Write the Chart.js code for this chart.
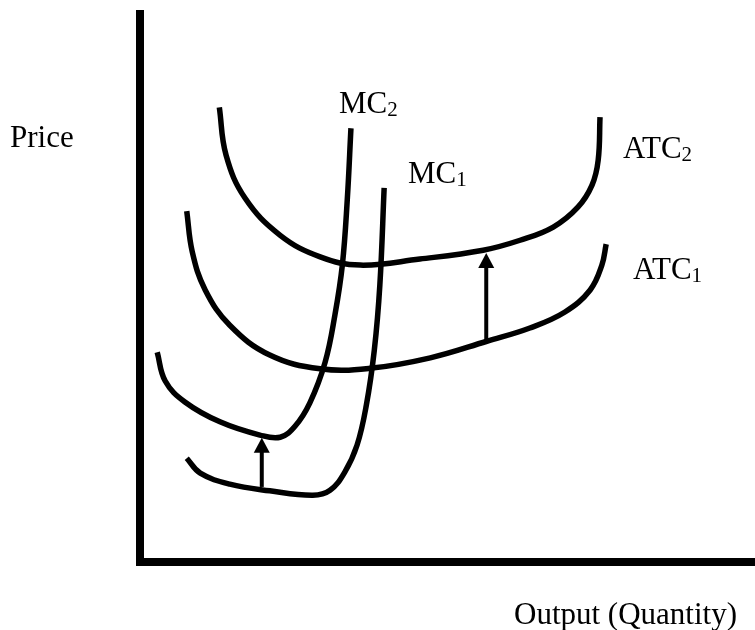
<!DOCTYPE html>
<html>
<head>
<meta charset="utf-8">
<script src="https://cdn.jsdelivr.net/npm/chart.js@4/dist/chart.umd.min.js"></script>
<style>
  html, body { margin: 0; padding: 0; background: #ffffff; }
  #wrap { width: 755px; height: 630px; }
</style>
</head>
<body>
<div id="wrap"><canvas id="c" width="755" height="630"></canvas></div>
<script>
// ---- Data (Output on x, Price on y, arbitrary units) ----
const ATC2_X = [12.9, 14.0, 17.1, 22.8, 29.3, 35.8, 45.5, 55.8, 61.8, 67.2, 71.2, 73.5, 74.5, 74.8];
const ATC2_Y = [82.4, 73.7, 65.9, 59.2, 55.3, 53.8, 54.9, 56.5, 58.3, 60.7, 64.3, 68.3, 72.8, 80.6];

const ATC1_X = [7.6, 8.5, 10.6, 14.6, 21.1, 29.3, 37.4, 47.2, 56.4, 63.4, 69.1, 73.2, 75.1, 75.8];
const ATC1_Y = [63.6, 56.2, 49.3, 42.9, 37.5, 35.0, 35.1, 37.0, 40.0, 42.4, 45.3, 49.3, 53.8, 57.6];

const MC2_X = [2.8, 4.1, 7.3, 13.0, 19.5, 22.8, 25.2, 27.6, 30.1, 31.7, 32.9, 33.7, 34.3];
const MC2_Y = [38.0, 32.8, 29.0, 25.4, 23.0, 22.6, 24.6, 28.8, 36.2, 44.8, 53.8, 65.6, 78.6];

const MC1_X = [7.6, 9.8, 14.6, 21.1, 28.1, 30.9, 33.3, 35.3, 36.8, 38.1, 39.0, 39.7];
const MC1_Y = [18.8, 16.1, 14.1, 12.9, 12.1, 13.0, 16.3, 21.2, 28.4, 38.4, 50.2, 67.8];

// Upward shift arrows (x position, start value, tip value)
const ARROW_X    = [19.8, 56.3];
const ARROW_FROM = [13.6, 40.2];
const ARROW_TO   = [22.5, 56.0];

// Text
const AXIS_Y_LABEL = "Price";
const AXIS_X_LABEL = "Output (Quantity)";
const CURVE_NAMES = ["MC", "MC", "ATC", "ATC"];
const CURVE_SUBS  = ["2", "1", "2", "1"];

// ---- Build datasets ----
function pts(xs, ys) { return xs.map((x, i) => ({ x: x, y: ys[i] })); }
function curve(label, xs, ys) {
  return {
    label: label,
    data: pts(xs, ys),
    showLine: true,
    borderColor: '#000000',
    backgroundColor: '#000000',
    borderWidth: 5.5,
    pointRadius: 0,
    pointHoverRadius: 0,
    tension: 0.4,
    fill: false
  };
}

const SERIF = '"Liberation Serif", "Times New Roman", serif';

const annotate = {
  id: 'annotate',
  afterDatasetsDraw(chart) {
    const ctx = chart.ctx;
    const xs = chart.scales.x, ys = chart.scales.y;
    ctx.save();
    ctx.fillStyle = '#000';
    ctx.strokeStyle = '#000';
    // arrows
    for (let i = 0; i < ARROW_X.length; i++) {
      const px = xs.getPixelForValue(ARROW_X[i]);
      const y0 = ys.getPixelForValue(ARROW_FROM[i]);
      const y1 = ys.getPixelForValue(ARROW_TO[i]);
      const headLen = 15, headHalf = 8;
      ctx.lineWidth = 4;
      ctx.lineCap = 'butt';
      ctx.beginPath();
      ctx.moveTo(px, y0);
      ctx.lineTo(px, y1 + headLen - 2);
      ctx.stroke();
      ctx.beginPath();
      ctx.moveTo(px, y1);
      ctx.lineTo(px - headHalf, y1 + headLen);
      ctx.lineTo(px + headHalf, y1 + headLen);
      ctx.closePath();
      ctx.fill();
    }
    // labels
    ctx.textBaseline = 'alphabetic';
    ctx.textAlign = 'left';
    function sub(main, s, x, y) {
      ctx.font = '31px ' + SERIF;
      ctx.fillText(main, x, y);
      const w = ctx.measureText(main).width;
      ctx.font = '21px ' + SERIF;
      ctx.fillText(s, x + w, y + 3);
    }
    const pos = [[339, 113], [408, 183], [623, 158], [633, 279]];
    for (let i = 0; i < CURVE_NAMES.length; i++) {
      sub(CURVE_NAMES[i], CURVE_SUBS[i], pos[i][0], pos[i][1]);
    }
    ctx.font = '31px ' + SERIF;
    ctx.fillText(AXIS_Y_LABEL, 10, 147);
    ctx.fillText(AXIS_X_LABEL, 514, 624);
    ctx.restore();
  }
};

new Chart(document.getElementById('c'), {
  type: 'scatter',
  data: {
    datasets: [
      curve('ATC2', ATC2_X, ATC2_Y),
      curve('ATC1', ATC1_X, ATC1_Y),
      curve('MC2', MC2_X, MC2_Y),
      curve('MC1', MC1_X, MC1_Y)
    ]
  },
  options: {
    responsive: false,
    animation: false,
    events: [],
    layout: { padding: { left: 140, top: 14, right: 0, bottom: 68 } },
    plugins: { legend: { display: false }, tooltip: { enabled: false } },
    scales: {
      x: {
        type: 'linear', min: 0, max: 100,
        grid: { display: false, drawTicks: false },
        ticks: { display: false },
        border: { display: true, width: 8, color: '#000' }
      },
      y: {
        type: 'linear', min: 0, max: 99.3,
        grid: { display: false, drawTicks: false },
        ticks: { display: false },
        border: { display: true, width: 8, color: '#000' }
      }
    }
  },
  plugins: [annotate]
});
</script>
</body>
</html>
